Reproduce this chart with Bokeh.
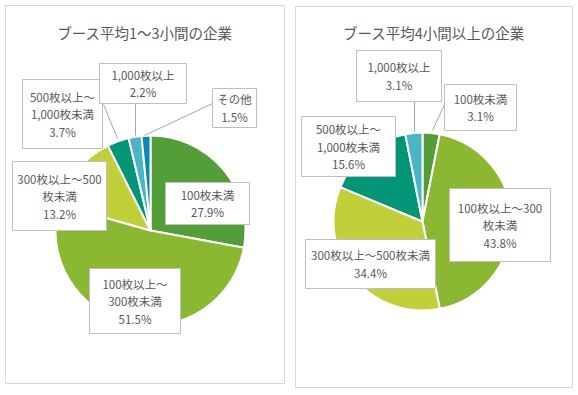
import numpy as np
from bokeh.plotting import figure
from bokeh.models import Range1d, ColumnDataSource
from bokeh.core.properties import value
from bokeh.embed import file_html
from bokeh.resources import INLINE

# ---------------- data ----------------
title_left = "ブース平均1～3小間の企業"
title_right = "ブース平均4小間以上の企業"
cats_left = ["100枚未満", "100枚以上～300枚未満", "300枚以上～500枚未満",
             "500枚以上～1,000枚未満", "1,000枚以上", "その他"]
vals_left = [27.9, 51.5, 13.2, 3.7, 2.2, 1.5]
cats_right = ["100枚未満", "100枚以上～300枚未満", "300枚以上～500枚未満",
              "500枚以上～1,000枚未満", "1,000枚以上"]
vals_right = [3.1, 43.8, 34.4, 15.6, 3.1]

# ---------------- styles / layout ----------------
colors = ["#549E39", "#8AB833", "#C0CF3A", "#029676", "#4AB5C4", "#0989B1"]
FONT = "Noto Sans CJK JP"
TXT = "#595959"

# layout in page pixel coords (x right, y down)
panels = [(5, 5, 284, 383), (295, 6, 572, 387)]
centers = [(150, 230), (422, 221)]
radii = [95, 89]
title_pos = [(144.5, 32), (433.5, 32)]
breaks = [[None, 7, 10, 7, None, None], [None, 10, None, 7, None]]
boxes = [
    [(165, 182, 249, 224), (89, 268, 180, 333), (12, 161, 106, 230),
     (22, 79, 102, 148), (99, 63, 186, 103), (212, 88, 256, 127)],
    [(444, 84, 516, 130), (449, 188, 550, 261), (305, 239, 435, 288),
     (301, 116, 395, 176), (356, 50, 441, 101)],
]
leaders = [
    [(103, 104, 117, 138), (135, 103, 135, 135), (212, 103, 144, 135)],
    [(414, 101, 414, 131), (444, 104, 432, 130)],
]
LINE_H = 17.5

W, H = 576, 393
p = figure(width=W, height=H, output_backend="svg", toolbar_location=None,
           x_range=Range1d(0, W), y_range=Range1d(-H, 0),
           min_border=0)
p.axis.visible = False
p.grid.visible = False
p.outline_line_color = None
p.background_fill_color = "white"
p.border_fill_color = "white"

# panels
p.quad(left=[b[0] for b in panels], right=[b[2] for b in panels],
       top=[-b[1] for b in panels], bottom=[-b[3] for b in panels],
       fill_color="white", line_color="#D9D9D9", line_width=1)

# titles
p.text(x=[t[0] for t in title_pos], y=[-t[1] for t in title_pos],
       text=[title_left, title_right], text_font=value(FONT),
       text_font_size="14.5px", text_color=TXT, text_align="center",
       text_baseline="middle")

for k, (cats, vals) in enumerate([(cats_left, vals_left), (cats_right, vals_right)]):
    v = np.array(vals, dtype=float)
    frac = v / v.sum()
    c1 = np.cumsum(frac)
    c0 = c1 - frac
    start = np.pi / 2 - 2 * np.pi * c0
    end = np.pi / 2 - 2 * np.pi * c1
    cx, cy = centers[k]
    src = ColumnDataSource(dict(start=start, end=end, color=colors[:len(vals)]))
    p.wedge(x=cx, y=-cy, radius=radii[k], start_angle="start", end_angle="end",
            direction="clock", fill_color="color", line_color="white",
            line_width=2, source=src)

    # leader lines
    L = leaders[k]
    p.segment(x0=[l[0] for l in L], y0=[-l[1] for l in L],
              x1=[l[2] for l in L], y1=[-l[3] for l in L],
              line_color="#A6A6A6", line_width=1)

    # label boxes
    B = boxes[k]
    p.quad(left=[b[0] for b in B], right=[b[2] for b in B],
           top=[-b[1] for b in B], bottom=[-b[3] for b in B],
           fill_color="white", line_color="#BFBFBF", line_width=1)

    tx, ty, tt = [], [], []
    for i, (cat, val) in enumerate(zip(cats, vals)):
        br = breaks[k][i]
        lines = [cat] if br is None else [cat[:br], cat[br:]]
        lines.append(f"{val:.1f}%")
        bx = (B[i][0] + B[i][2]) / 2
        by = (B[i][1] + B[i][3]) / 2
        n = len(lines)
        for j, s in enumerate(lines):
            tx.append(bx)
            ty.append(-(by + (j - (n - 1) / 2) * LINE_H))
            tt.append(s)
    p.text(x=tx, y=ty, text=tt, text_font=value(FONT), text_font_size="11.5px",
           text_color=TXT, text_align="center", text_baseline="middle")

open("out.html", "w").write(file_html(p, INLINE))
